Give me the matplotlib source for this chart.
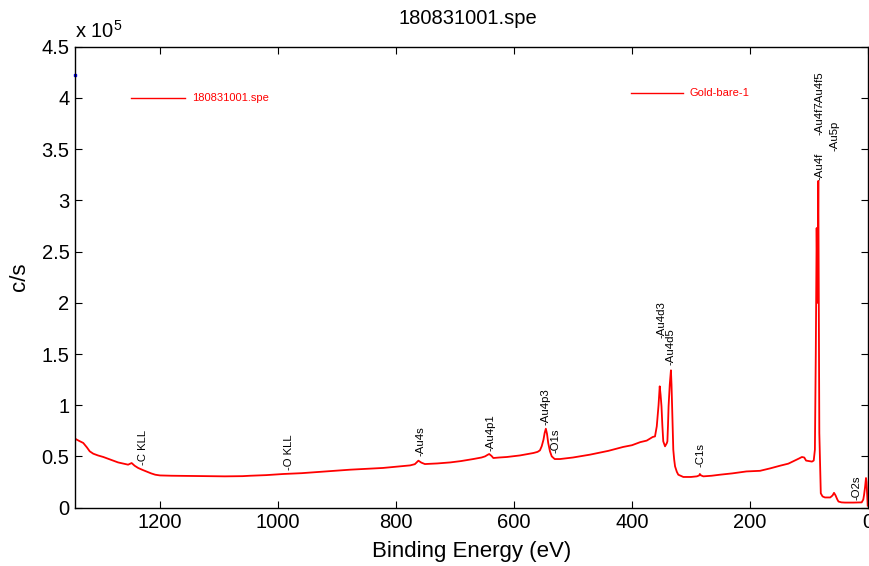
import matplotlib
matplotlib.use('Agg')
import matplotlib.pyplot as plt
from matplotlib.ticker import FuncFormatter, MultipleLocator

plt.rcParams['font.family'] = ['Liberation Sans', 'DejaVu Sans']
plt.rcParams['mathtext.fontset'] = 'custom'
plt.rcParams['mathtext.rm'] = 'Liberation Sans'
plt.rcParams['mathtext.default'] = 'regular'

# Binding energy (eV) and intensity (c/s)
energy = [1344, 1338, 1330, 1324, 1319, 1313, 1305, 1296, 1284, 1271, 1262, 1254, 1248, 1243,
          1237, 1230, 1223, 1215, 1208, 1200, 1180, 1150, 1120, 1090, 1060, 1047, 1020, 991,
          960, 934, 905, 878, 850, 822, 800, 776, 768, 762, 757, 751, 730, 708, 690, 669,
          655, 649, 645, 642, 638, 635, 625, 612, 590, 567, 560, 556, 553, 550, 548, 546,
          544, 542, 539, 536, 531, 522, 500, 471, 440, 415, 400, 386, 375, 365, 361, 358,
          355, 353, 351.5, 350, 348.5, 347, 344, 341, 340, 339, 338, 336, 334, 333, 332,
          331, 330, 328.5, 327, 324, 321.5, 317, 313, 300, 290, 286, 285, 283, 279, 265,
          251, 230, 206, 183, 165, 149, 135, 124, 117, 112, 108, 105, 100, 95, 92, 90,
          88.5, 87, 85.6, 84.2, 82.5, 81, 80, 77, 73, 64, 60, 57.6, 55, 52, 50, 45, 39,
          25, 10.7, 8, 6.8, 5, 3.4, 2.5, 1.7, 0.5]
counts = [67400, 65500, 63200, 59000, 55000, 52700, 51000, 49500, 47000, 44200, 43000, 42000,
          43600, 41000, 38800, 37000, 35400, 33500, 32200, 31500, 31200, 31000, 30800, 30600,
          30800, 31200, 31800, 32900, 33700, 34800, 36000, 37100, 38000, 38800, 40000, 41300,
          42500, 45900, 44000, 42600, 43200, 44200, 45500, 47500, 49000, 50100, 51500, 52400,
          50500, 48500, 49000, 49500, 51000, 53400, 54500, 56000, 60000, 66400, 73000, 77100,
          72000, 63200, 55000, 50100, 47500, 47500, 49000, 51800, 55500, 59300, 61000, 64000,
          65500, 69000, 69600, 79400, 100000, 118500, 110000, 99000, 80000, 64800, 59900,
          63000, 64800, 80000, 99000, 120000, 134100, 120000, 99000, 75000, 56600, 47000,
          40300, 35000, 32200, 31000, 30000, 30000, 30600, 31500, 32900, 31500, 30600, 31200,
          32200, 33500, 35400, 36000, 38500, 41000, 43000, 46000, 48000, 49500, 49000, 46000,
          45500, 45000, 46000, 56600, 150000, 273000, 200000, 319000, 73000, 35000, 14000,
          11000, 10000, 10000, 12000, 14500, 12000, 8000, 6000, 5200, 5000, 5000, 5200, 8000,
          12000, 20000, 29000, 25000, 15000, 2000]

peak_names = ['-C KLL', '-O KLL', '-Au4s', '-Au4p1', '-Au4p3', '-O1s', '-Au4d3', '-Au4d5',
              '-C1s', '-Au4f', '-Au4f7', '-Au4f5', '-Au5p', '-O2s']
peak_energy = [1228, 981, 759, 639, 546, 529, 350, 334, 284, 83, 83, 83, 57.6, 19]
peak_height = [42000, 36400, 50000, 55000, 81000, 53400, 166000, 139000, 40000, 320000,
               364000, 393000, 348000, 7800]

legend_names = ['180831001.spe', 'Gold-bare-1']

fig = plt.figure(figsize=(8.7, 5.66), dpi=100)
ax = fig.add_axes([75 / 870, 1 - 507.7 / 566, 793 / 870, 461 / 566])
ax.plot(energy, counts, color='red', lw=1.3)

ax.set_xlim(1344, 0)
ax.set_ylim(0, 4.5e5)
ax.xaxis.set_major_locator(MultipleLocator(200))
ax.yaxis.set_major_locator(MultipleLocator(0.5e5))
ax.yaxis.set_major_formatter(FuncFormatter(lambda v, p: f'{v / 1e5:g}'))
ax.tick_params(direction='in', top=True, right=True, length=5, width=0.8,
               labelsize=14.5, pad=4)
for s in ax.spines.values():
    s.set_linewidth(1.0)

for name, e, h in zip(peak_names, peak_energy, peak_height):
    ax.text(e, h, name, rotation=90, ha='center', va='bottom', fontsize=8.2)

# legend-like annotations
ax.plot([1249, 1158], [4.0e5, 4.0e5], color='red', lw=1)
ax.text(1146, 4.0e5, legend_names[0], color='red', fontsize=8, va='center', ha='left')
ax.plot([402, 314], [4.05e5, 4.05e5], color='red', lw=1)
ax.text(303, 4.05e5, legend_names[1], color='red', fontsize=8, va='center', ha='left')
ax.plot([1344], [4.22e5], marker='s', ms=1.5, color='blue', clip_on=False)

ax.text(0.0, 1.019, r'x 10$^{5}$', transform=ax.transAxes, fontsize=14.5,
        ha='left', va='baseline')

ax.set_xlabel('Binding Energy (eV)', fontsize=16)
ax.xaxis.set_label_coords(0.5, -0.072)
ax.set_ylabel('c/s', fontsize=16)
ax.yaxis.set_label_coords(-0.057, 0.5)
fig.text(468 / 870, 1 - 18 / 566, '180831001.spe', ha='center', va='center', fontsize=14.5)

fig.savefig('out.png', dpi=100)
